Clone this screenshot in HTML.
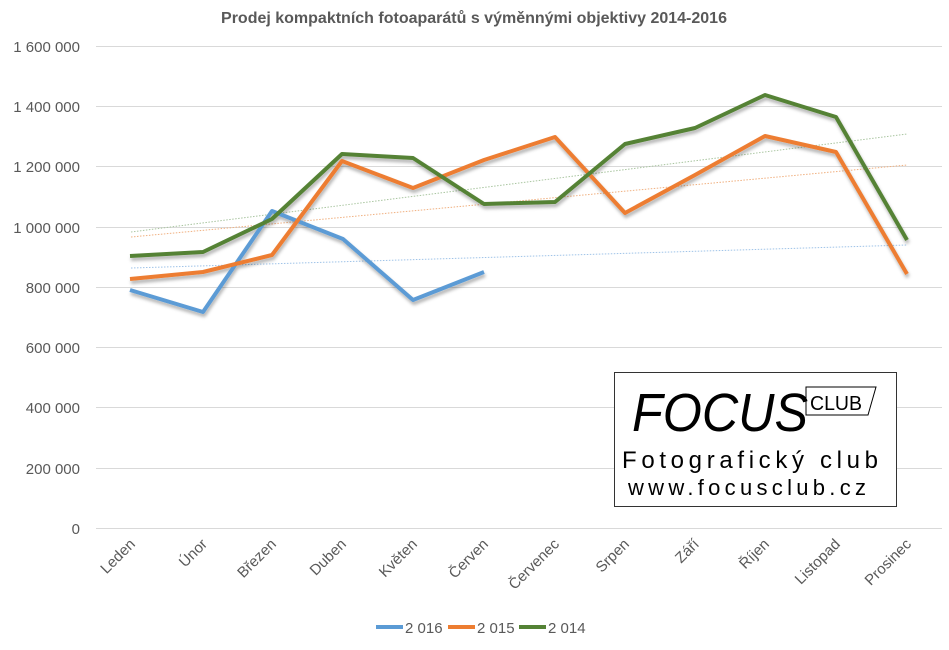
<!DOCTYPE html>
<html><head><meta charset="utf-8"><style>
body{margin:0;background:#fff;}
svg text{font-family:"Liberation Sans",sans-serif;}
</style></head><body>
<svg width="949" height="645" viewBox="0 0 949 645" xmlns="http://www.w3.org/2000/svg">
<defs><filter id="sh" x="-5%" y="-5%" width="110%" height="120%"><feDropShadow dx="1" dy="3" stdDeviation="1.5" flood-color="#000" flood-opacity="0.3"/></filter></defs>
<text x="474" y="23" text-anchor="middle" font-size="16" font-weight="bold" fill="#595959">Prodej kompaktních fotoaparátů s výměnnými objektivy 2014-2016</text>
<g stroke="#d9d9d9" stroke-width="1">
<line x1="96" y1="46.5" x2="942" y2="46.5"/><line x1="96" y1="106.5" x2="942" y2="106.5"/><line x1="96" y1="166.5" x2="942" y2="166.5"/><line x1="96" y1="227.5" x2="942" y2="227.5"/><line x1="96" y1="287.5" x2="942" y2="287.5"/><line x1="96" y1="347.5" x2="942" y2="347.5"/><line x1="96" y1="407.5" x2="942" y2="407.5"/><line x1="96" y1="468.5" x2="942" y2="468.5"/><line x1="96" y1="528.5" x2="942" y2="528.5"/>
</g>
<g font-size="15" fill="#595959" text-anchor="end">
<text x="80" y="52">1 600 000</text><text x="80" y="112">1 400 000</text><text x="80" y="172">1 200 000</text><text x="80" y="233">1 000 000</text><text x="80" y="293">800 000</text><text x="80" y="353">600 000</text><text x="80" y="413">400 000</text><text x="80" y="474">200 000</text><text x="80" y="534">0</text>
</g>
<g stroke-width="1" stroke-dasharray="1.5,1.5" fill="none">
<line x1="131" y1="232" x2="907" y2="134" stroke="#a9c5a0"/>
<line x1="131" y1="237" x2="907" y2="165" stroke="#f0b080"/>
<line x1="131" y1="268" x2="907" y2="245" stroke="#9fc3e8"/>
</g>
<g fill="none" stroke-width="4" stroke-linejoin="round" filter="url(#sh)">
<polyline stroke="#5b9bd5" points="130,290 203,312 272,211 343,239 413,300 484,272"/>
<polyline stroke="#ed7d31" points="130,279 203,272 272,255 342,161 413,188 484,160 555,137 625,213 695,175 765,136 836,152 907,274"/>
<polyline stroke="#548235" points="130,256 203,252 272,219 342,154 413,158 484,204 555,202 625,144 695,128 765,95 836,117 907,240"/>
</g>
<g font-size="15" fill="#595959" text-anchor="end">
<text transform="translate(136,545) rotate(-45)">Leden</text>
<text transform="translate(208,545) rotate(-45)">Únor</text>
<text transform="translate(277,545) rotate(-45)">Březen</text>
<text transform="translate(347,545) rotate(-45)">Duben</text>
<text transform="translate(418,545) rotate(-45)">Květen</text>
<text transform="translate(489,545) rotate(-45)">Červen</text>
<text transform="translate(560,545) rotate(-45)">Červenec</text>
<text transform="translate(630,545) rotate(-45)">Srpen</text>
<text transform="translate(700,545) rotate(-45)">Září</text>
<text transform="translate(770,545) rotate(-45)">Říjen</text>
<text transform="translate(841,545) rotate(-45)">Listopad</text>
<text transform="translate(912,545) rotate(-45)">Prosinec</text>
</g>
<g font-size="15" fill="#595959">
<line x1="376" y1="627" x2="403" y2="627" stroke="#5b9bd5" stroke-width="4"/><text x="405" y="633">2 016</text>
<line x1="448" y1="627" x2="475" y2="627" stroke="#ed7d31" stroke-width="4"/><text x="477" y="633">2 015</text>
<line x1="519" y1="627" x2="546" y2="627" stroke="#548235" stroke-width="4"/><text x="548" y="633">2 014</text>
</g>
<rect x="614.5" y="372.5" width="282" height="134" fill="#fff" stroke="#333" stroke-width="1"/>
<text x="632" y="431" font-size="54" font-style="italic" fill="#000" textLength="176" lengthAdjust="spacingAndGlyphs">FOCUS</text>
<polygon points="806,387 876,387 868,415 806,415" fill="none" stroke="#000" stroke-width="1"/>
<text x="810" y="410" font-size="20" fill="#000" textLength="52" lengthAdjust="spacingAndGlyphs">CLUB</text>
<text x="622" y="468" font-size="24" fill="#000" textLength="256" lengthAdjust="spacing">Fotografický club</text>
<text x="628" y="495" font-size="22" fill="#000" textLength="238" lengthAdjust="spacing">www.focusclub.cz</text>
</svg>
</body></html>
